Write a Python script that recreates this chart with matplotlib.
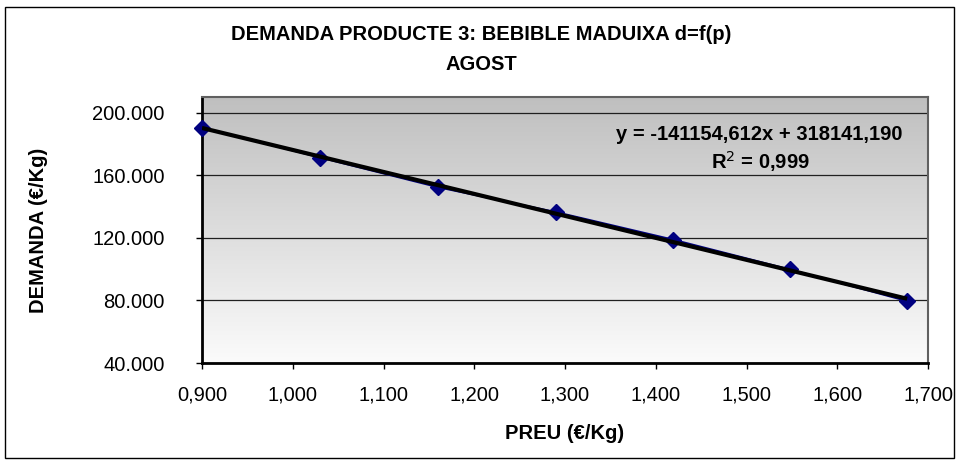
import numpy as np
import matplotlib
matplotlib.use("Agg")
import matplotlib.pyplot as plt
from matplotlib.patches import Rectangle
from matplotlib.ticker import FuncFormatter, MultipleLocator

# ---- data ----
preu = [0.900, 1.030, 1.160, 1.290, 1.419, 1.548, 1.677]
demanda = [190500, 171300, 152300, 136500, 118900, 99800, 79500]
title_line1 = "DEMANDA PRODUCTE 3: BEBIBLE MADUIXA d=f(p)"
title_line2 = "AGOST"
eq_text = "y = -141154,612x + 318141,190"
r2_text = "R$^2$ = 0,999"
xlabel = "PREU (€/Kg)"
ylabel = "DEMANDA (€/Kg)"

plt.rcParams['font.family'] = ['Liberation Sans', 'DejaVu Sans']

W, H = 956, 461
fig = plt.figure(figsize=(W / 100, H / 100), dpi=100)
fig.patch.set_facecolor('white')

# outer border
fig.patches.append(Rectangle((5 / W, 1 - 458 / H), (954 - 5) / W, (458 - 7) / H,
                             transform=fig.transFigure, fill=False,
                             edgecolor='black', linewidth=1.0))

L, R, T, B = 202, 928, 97, 363
ax = fig.add_axes([L / W, 1 - B / H, (R - L) / W, (B - T) / H])

# gradient background
grad = np.linspace(0, 1, 256).reshape(-1, 1)
top_c = np.array([0.75, 0.75, 0.75])
bot_c = np.array([0.985, 0.985, 0.985])
img = top_c[None, None, :] * (1 - grad[:, :, None]) + bot_c[None, None, :] * grad[:, :, None]
ax.imshow(img, extent=(0, 1, 0, 1), transform=ax.transAxes, aspect='auto',
          zorder=0, interpolation='bilinear')
ax.set_xlim(0.9, 1.7)
ax.set_ylim(40000, 210000)

ax.yaxis.set_major_locator(MultipleLocator(40000))
ax.xaxis.set_major_locator(MultipleLocator(0.1))
ax.yaxis.grid(True, color='#202020', linewidth=0.9, zorder=1)
ax.set_axisbelow(True)

ax.yaxis.set_major_formatter(FuncFormatter(lambda v, p: f"{v/1000:.3f}"))
ax.xaxis.set_major_formatter(FuncFormatter(lambda v, p: f"{v:.3f}".replace(".", ",")))

ax.tick_params(axis='both', direction='out', length=4, width=1, labelsize=14.5,
               colors='black')
ax.tick_params(axis='x', pad=12)
ax.tick_params(axis='y', pad=23)

for s in ['left', 'bottom']:
    ax.spines[s].set_linewidth(2.0)
    ax.spines[s].set_color('black')
for s in ['top', 'right']:
    ax.spines[s].set_linewidth(1.5)
    ax.spines[s].set_color('#606060')

# data series
ax.plot(preu, demanda, color='#000080', linewidth=1.3, marker='D', markersize=8,
        markerfacecolor='#000080', markeredgecolor='#000080', zorder=3, clip_on=False)

# trendline
coef = np.polyfit(preu, demanda, 1)
xs = np.array([preu[0], preu[-1]])
ax.plot(xs, np.polyval(coef, xs), color='black', linewidth=3.0, zorder=4,
        solid_capstyle='butt')

# equation text
ax.text((759 - L) / (R - L), 1 - (135 - T) / (B - T), eq_text, transform=ax.transAxes,
        ha='center', va='center', fontsize=14.5, fontweight='bold', zorder=5)
ax.text((760 - L) / (R - L), 1 - (162 - T) / (B - T), r2_text, transform=ax.transAxes,
        ha='center', va='center', fontsize=14.5, fontweight='bold', zorder=5)

# titles and labels
fig.text(481 / W, 1 - 35 / H, title_line1, ha='center', va='center',
         fontsize=14.5, fontweight='bold')
fig.text(481 / W, 1 - 64 / H, title_line2, ha='center', va='center',
         fontsize=14.5, fontweight='bold')
fig.text(565 / W, 1 - 433 / H, xlabel, ha='center', va='center',
         fontsize=14.5, fontweight='bold')
fig.text(39 / W, 1 - 230 / H, ylabel, ha='center', va='center', rotation=90,
         fontsize=14.5, fontweight='bold')

fig.savefig("out.png", dpi=100)
